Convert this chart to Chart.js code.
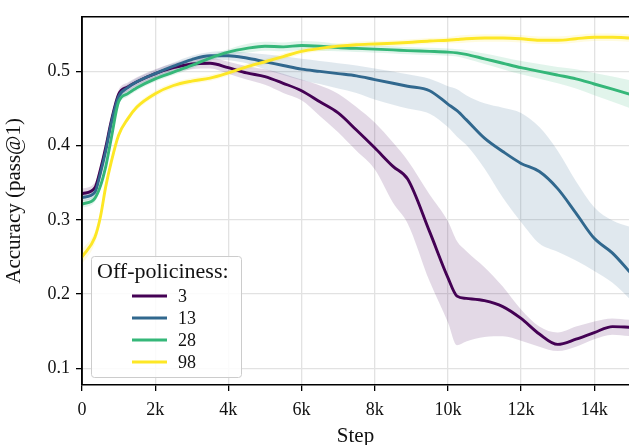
<!DOCTYPE html>
<html>
<head>
<meta charset="utf-8">
<script src="https://cdn.jsdelivr.net/npm/chart.js@4.4.1/dist/chart.umd.min.js"></script>
<style>
  html, body { margin: 0; padding: 0; background: #fff; }
</style>
</head>
<body>
<canvas id="chart" width="629" height="445"></canvas>
<script>
// training steps shared by all runs
const steps = [0, 350, 500, 650, 800, 1000, 1250, 1500, 2000, 2500, 3000, 3500, 4000, 4500, 5000, 5500,
  6000, 6500, 7000, 7500, 8000, 8500, 8900, 9500, 10000, 10250, 10500, 11000, 11500, 12000, 12500,
  13000, 13500, 14000, 14500, 15000];

// axis ticks
const xTicks = [0, 2000, 4000, 6000, 8000, 10000, 12000, 14000];
const yTicks = [0.1, 0.2, 0.3, 0.4, 0.5];

// off-policiness 3
const offp3 = [0.335, 0.343, 0.367, 0.398, 0.433, 0.469, 0.479, 0.486, 0.497, 0.505, 0.510, 0.511, 0.505, 0.498, 0.493, 0.484,
  0.474, 0.459, 0.444, 0.421, 0.397, 0.372, 0.355, 0.284, 0.222, 0.197, 0.194, 0.191, 0.183, 0.167, 0.146,
  0.132, 0.139, 0.148, 0.156, 0.155];
const offp3Lo = [0.328, 0.336, 0.360, 0.391, 0.426, 0.463, 0.473, 0.480, 0.490, 0.498, 0.503, 0.504, 0.497, 0.489, 0.482, 0.471,
  0.461, 0.440, 0.418, 0.393, 0.368, 0.323, 0.295, 0.217, 0.162, 0.131, 0.136, 0.142, 0.143, 0.137, 0.129,
  0.123, 0.129, 0.139, 0.145, 0.143];
const offp3Hi = [0.342, 0.350, 0.374, 0.405, 0.440, 0.475, 0.485, 0.492, 0.503, 0.511, 0.517, 0.518, 0.513, 0.507, 0.503, 0.497,
  0.489, 0.481, 0.470, 0.452, 0.431, 0.404, 0.380, 0.334, 0.298, 0.271, 0.258, 0.236, 0.210, 0.179, 0.156,
  0.148, 0.156, 0.163, 0.167, 0.165];

// off-policiness 13
const offp13 = [0.330, 0.337, 0.362, 0.393, 0.430, 0.466, 0.478, 0.486, 0.497, 0.507, 0.516, 0.521, 0.521, 0.518, 0.513, 0.508,
  0.503, 0.500, 0.497, 0.494, 0.489, 0.484, 0.480, 0.474, 0.456, 0.447, 0.435, 0.410, 0.392, 0.376, 0.365,
  0.342, 0.309, 0.275, 0.255, 0.228];
const offp13Lo = [0.325, 0.332, 0.357, 0.388, 0.425, 0.461, 0.473, 0.481, 0.492, 0.502, 0.511, 0.516, 0.515, 0.511, 0.503, 0.495,
  0.488, 0.483, 0.477, 0.471, 0.462, 0.455, 0.450, 0.443, 0.425, 0.412, 0.401, 0.369, 0.330, 0.297, 0.268,
  0.257, 0.245, 0.231, 0.215, 0.192];
const offp13Hi = [0.335, 0.342, 0.367, 0.398, 0.435, 0.471, 0.483, 0.491, 0.502, 0.512, 0.521, 0.526, 0.527, 0.525, 0.523, 0.520,
  0.517, 0.514, 0.511, 0.508, 0.504, 0.500, 0.496, 0.490, 0.480, 0.476, 0.468, 0.457, 0.451, 0.444, 0.425,
  0.393, 0.352, 0.317, 0.299, 0.290];

// off-policiness 28
const offp28 = [0.321, 0.329, 0.345, 0.372, 0.410, 0.459, 0.470, 0.478, 0.490, 0.499, 0.508, 0.518, 0.526, 0.531, 0.534, 0.533,
  0.535, 0.534, 0.532, 0.531, 0.530, 0.529, 0.528, 0.527, 0.526, 0.525, 0.523, 0.517, 0.511, 0.505, 0.500,
  0.495, 0.490, 0.483, 0.476, 0.469];
const offp28Lo = [0.316, 0.324, 0.340, 0.367, 0.405, 0.454, 0.466, 0.474, 0.486, 0.495, 0.504, 0.514, 0.522, 0.525, 0.528, 0.527,
  0.529, 0.528, 0.527, 0.526, 0.525, 0.524, 0.523, 0.522, 0.521, 0.520, 0.517, 0.510, 0.503, 0.496, 0.490,
  0.484, 0.477, 0.468, 0.459, 0.450];
const offp28Hi = [0.326, 0.334, 0.350, 0.377, 0.415, 0.464, 0.474, 0.482, 0.494, 0.503, 0.512, 0.522, 0.530, 0.537, 0.540, 0.539,
  0.541, 0.540, 0.537, 0.536, 0.535, 0.534, 0.533, 0.532, 0.531, 0.530, 0.529, 0.524, 0.519, 0.514, 0.510,
  0.506, 0.503, 0.498, 0.493, 0.488];

// off-policiness 98
const offp98 = [0.250, 0.276, 0.303, 0.345, 0.378, 0.414, 0.436, 0.452, 0.470, 0.481, 0.487, 0.491, 0.498, 0.506, 0.513, 0.520,
  0.527, 0.531, 0.534, 0.536, 0.537, 0.538, 0.539, 0.541, 0.542, 0.543, 0.544, 0.545, 0.545, 0.544, 0.542,
  0.542, 0.544, 0.546, 0.546, 0.545];
const offp98Lo = [0.240, 0.268, 0.296, 0.340, 0.374, 0.410, 0.432, 0.448, 0.466, 0.477, 0.483, 0.487, 0.494, 0.502, 0.509, 0.516,
  0.523, 0.527, 0.530, 0.532, 0.533, 0.534, 0.535, 0.537, 0.538, 0.538, 0.539, 0.540, 0.540, 0.539, 0.537,
  0.537, 0.539, 0.541, 0.541, 0.540];
const offp98Hi = [0.260, 0.284, 0.310, 0.350, 0.382, 0.418, 0.440, 0.456, 0.474, 0.485, 0.491, 0.495, 0.502, 0.510, 0.517, 0.524,
  0.531, 0.535, 0.538, 0.540, 0.541, 0.542, 0.543, 0.545, 0.546, 0.548, 0.549, 0.550, 0.550, 0.549, 0.547,
  0.547, 0.549, 0.551, 0.551, 0.550];

const labels = ['3', '13', '28', '98'];
const colors = ['#440154', '#31688e', '#35b779', '#fde725'];
const means = [offp3, offp13, offp28, offp98];
const lows = [offp3Lo, offp13Lo, offp28Lo, offp98Lo];
const highs = [offp3Hi, offp13Hi, offp28Hi, offp98Hi];

const serif = "'Liberation Serif', 'Times New Roman', serif";
const pts = (arr) => arr.map((v, i) => ({ x: steps[i], y: v }));

// shaded bands first (lo, then hi filled down to lo), then the mean lines
const datasets = [];
labels.forEach((lab, i) => {
  datasets.push({
    data: pts(lows[i]), borderColor: 'rgba(0,0,0,0)', borderWidth: 1, pointRadius: 0,
    fill: false, order: 10, cubicInterpolationMode: 'monotone'
  });
  datasets.push({
    data: pts(highs[i]), borderColor: 'rgba(0,0,0,0)', borderWidth: 1, pointRadius: 0,
    fill: '-1', backgroundColor: colors[i] + '26', order: 10, cubicInterpolationMode: 'monotone'
  });
});
labels.forEach((lab, i) => {
  datasets.push({
    label: lab, data: pts(means[i]), borderColor: colors[i], backgroundColor: colors[i],
    borderWidth: 2.9, pointRadius: 0, fill: false, order: 4 - i,
    cubicInterpolationMode: 'monotone', borderCapStyle: 'round', borderJoinStyle: 'round'
  });
});

// spines on top/left + legend inside the plot
const framePlugin = {
  id: 'frame',
  afterDatasetsDraw(chart) {
    const { ctx, chartArea: a } = chart;
    ctx.save();
    ctx.strokeStyle = '#000';
    ctx.lineWidth = 1.5;
    ctx.beginPath();
    ctx.moveTo(a.left, a.bottom);
    ctx.lineTo(a.left, a.top);
    ctx.lineTo(a.right + 2, a.top);
    ctx.stroke();
    ctx.restore();
  },
  afterDraw(chart) {
    const { ctx, chartArea: a } = chart;
    const bx = a.left + 9, bw = 150, bh = 121, by = a.bottom - 8 - bh;
    ctx.save();
    ctx.fillStyle = 'rgba(255,255,255,0.85)';
    ctx.strokeStyle = '#cccccc';
    ctx.lineWidth = 1;
    ctx.beginPath();
    ctx.roundRect(bx + 0.5, by + 0.5, bw, bh, 3);
    ctx.fill();
    ctx.stroke();

    ctx.fillStyle = '#111';
    ctx.textBaseline = 'middle';
    ctx.font = '22px ' + serif;
    ctx.fillText('Off-policiness:', bx + 6, by + 16);

    ctx.font = '18px ' + serif;
    labels.forEach((lab, i) => {
      const y = by + 40 + i * 22;
      ctx.strokeStyle = colors[i];
      ctx.lineWidth = 2.9;
      ctx.beginPath();
      ctx.moveTo(bx + 41, y);
      ctx.lineTo(bx + 76, y);
      ctx.stroke();
      ctx.fillText(lab, bx + 87, y + 1);
    });
    ctx.restore();
  }
};

new Chart(document.getElementById('chart'), {
  type: 'line',
  data: { datasets: datasets },
  options: {
    responsive: false,
    animation: false,
    devicePixelRatio: 1,
    layout: { padding: { top: 14, right: 0, bottom: 0, left: 0 } },
    plugins: {
      legend: { display: false },
      tooltip: { enabled: false }
    },
    scales: {
      x: {
        type: 'linear',
        min: 0,
        max: 14950,
        afterBuildTicks: (s) => { s.ticks = xTicks.map((v) => ({ value: v })); },
        ticks: {
          autoSkip: false,
          maxRotation: 0,
          padding: 8,
          color: '#111',
          font: { family: serif, size: 18 },
          callback: (v) => (v === 0 ? '0' : v / 1000 + 'k')
        },
        grid: { color: '#e2e2e2', lineWidth: 1.3, tickColor: '#000', tickLength: 6, tickWidth: 1.3 },
        border: { color: '#000', width: 1.5 },
        title: {
          display: true, text: 'Step', color: '#111',
          font: { family: serif, size: 21 }, padding: { top: 0, bottom: -4 }
        },
        afterFit: (s) => { s.height = 60; }
      },
      y: {
        min: 0.0773,
        max: 0.5736,
        afterBuildTicks: (s) => { s.ticks = yTicks.map((v) => ({ value: v })); },
        ticks: {
          padding: 6,
          color: '#111',
          font: { family: serif, size: 18 },
          callback: (v) => v.toFixed(1)
        },
        grid: { color: '#e2e2e2', lineWidth: 1.3, tickColor: '#000', tickLength: 6, tickWidth: 1.3 },
        border: { color: '#000', width: 1.5 },
        title: {
          display: true, text: 'Accuracy (pass@1)', color: '#111',
          font: { family: serif, size: 21 }, padding: { top: 2, bottom: 0 }
        },
        afterFit: (s) => { s.width = 82; }
      }
    }
  },
  plugins: [framePlugin]
});
</script>
</body>
</html>
